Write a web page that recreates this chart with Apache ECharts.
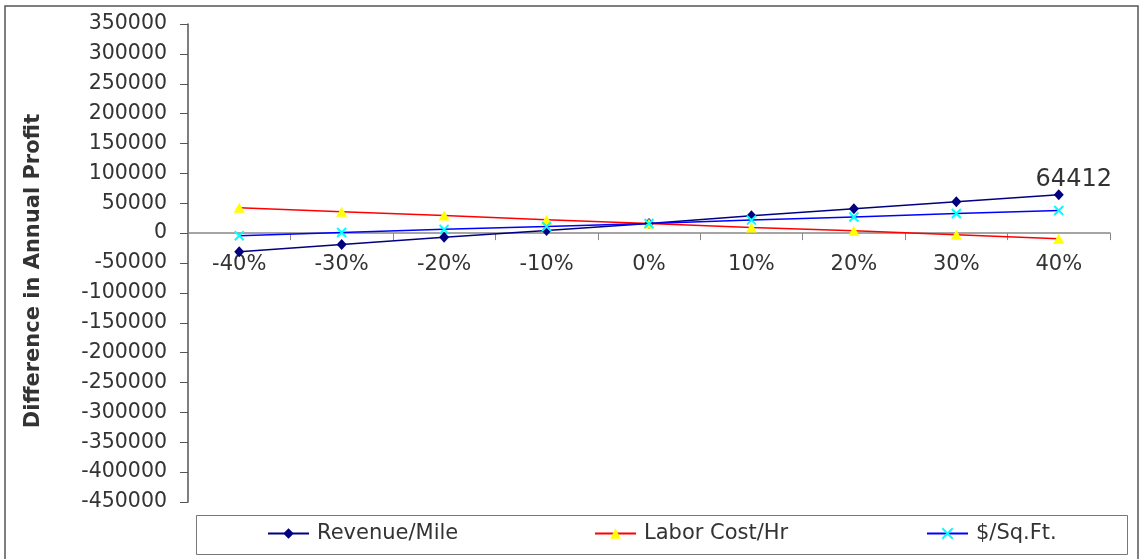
<!DOCTYPE html>
<html>
<head>
<meta charset="utf-8">
<script src="https://cdn.jsdelivr.net/npm/echarts@6/dist/echarts.min.js"></script>
<style>
  html, body { margin: 0; padding: 0; background: #fff; }
  #chart { width: 1139px; height: 559px; }
</style>
</head>
<body>
<div id="chart"></div>
<script>
// Sensitivity of annual profit to a change in each driver
var categories = ['-40%', '-30%', '-20%', '-10%', '0%', '10%', '20%', '30%', '40%'];
var revenuePerMile = [-31300, -19000, -7000, 4500, 16200, 29000, 40800, 52400, 64412];
var laborCostPerHr = [42300, 35800, 29300, 22500, 16200, 9300, 3800, -2600, -9600];
var dollarsPerSqFt = [-4500, 1000, 6300, 11200, 16200, 21800, 27000, 32800, 38000];
var seriesNames = ['Revenue/Mile', 'Labor Cost/Hr', '$/Sq.Ft.'];
var yTitle = 'Difference in Annual Profit';

var FONT = 'DejaVu Sans';
var TEXT = '#333333';
var crossSymbol = 'path://M0,0L10,10M10,0L0,10';

var GRID_TOP = 24, GRID_BOTTOM = 57, HEIGHT = 559;
var Y_MIN = -450000, Y_MAX = 350000;
// lift the category axis from the grid bottom up to the value 0
var plotH = HEIGHT - GRID_TOP - GRID_BOTTOM;
var zeroLift = plotH * (0 - Y_MIN) / (Y_MAX - Y_MIN);

var chart = echarts.init(document.getElementById('chart'));

function legendAt(name, left) {
  return {
    data: [name],
    left: left,
    top: 523,
    padding: 0,
    itemWidth: 41,
    itemHeight: 13,
    selectedMode: false,
    textStyle: { fontFamily: FONT, fontSize: 21, color: TEXT, padding: [0, 0, 0, 3] }
  };
}

var option = {
  animation: false,
  backgroundColor: '#ffffff',
  grid: { left: 188, right: 29, top: GRID_TOP, bottom: GRID_BOTTOM, containLabel: false },
  legend: [
    legendAt(seriesNames[0], 267),
    legendAt(seriesNames[1], 594),
    legendAt(seriesNames[2], 926)
  ],
  graphic: [
    {
      type: 'rect',
      shape: { x: 5, y: 6, width: 1133, height: 560 },
      style: { fill: 'none', stroke: '#555555', lineWidth: 1.5 },
      silent: true
    },
    {
      type: 'rect',
      shape: { x: 196.5, y: 515.5, width: 931, height: 39 },
      style: { fill: 'none', stroke: '#777777', lineWidth: 1 },
      silent: true,
      z: -1
    },
    {
      type: 'text',
      x: 34,
      y: 271,
      rotation: Math.PI / 2,
      style: {
        text: yTitle,
        fontFamily: FONT,
        fontSize: 21,
        fontWeight: 'bold',
        fill: TEXT,
        align: 'center',
        verticalAlign: 'middle'
      },
      silent: true
    }
  ],
  xAxis: {
    type: 'category',
    data: categories,
    boundaryGap: true,
    position: 'bottom',
    offset: -zeroLift,
    axisLine: { onZero: false, lineStyle: { color: '#888888', width: 1.5 } },
    axisTick: { show: true, inside: false, length: 7, lineStyle: { color: '#888888', width: 1 } },
    axisLabel: { margin: 21, fontFamily: FONT, fontSize: 21, color: TEXT, interval: 0 },
    splitLine: { show: false }
  },
  yAxis: {
    type: 'value',
    min: Y_MIN,
    max: Y_MAX,
    interval: 50000,
    axisLine: { show: true, lineStyle: { color: '#555555', width: 1.5 } },
    axisTick: { show: true, inside: false, length: 8, lineStyle: { color: '#555555', width: 1 } },
    axisLabel: {
      margin: 21, fontFamily: FONT, fontSize: 20.5, color: TEXT,
      formatter: function (v) { return String(v); }
    },
    splitLine: { show: false }
  },
  series: [
    {
      name: seriesNames[0],
      type: 'line',
      data: revenuePerMile,
      symbol: 'diamond',
      symbolSize: [10, 11],
      lineStyle: { color: '#000080', width: 1.5 },
      itemStyle: { color: '#000080', borderWidth: 0 },
      label: {
        show: true,
        position: 'top',
        distance: 5,
        offset: [15, 8],
        fontFamily: FONT,
        fontSize: 24,
        color: TEXT,
        formatter: function (p) {
          return p.dataIndex === revenuePerMile.length - 1 ? String(p.value) : '';
        }
      },
      z: 3
    },
    {
      name: seriesNames[1],
      type: 'line',
      data: laborCostPerHr,
      symbol: 'triangle',
      symbolSize: [11, 10],
      lineStyle: { color: '#FF0000', width: 1.5 },
      itemStyle: { color: '#FFFF00', borderWidth: 0 },
      z: 4
    },
    {
      name: seriesNames[2],
      type: 'line',
      data: dollarsPerSqFt,
      symbol: crossSymbol,
      symbolSize: 9,
      lineStyle: { color: '#0000FF', width: 1.5 },
      itemStyle: { color: '#00FFFF', borderColor: '#00FFFF', borderWidth: 2 },
      z: 5
    }
  ]
};

chart.setOption(option);
</script>
</body>
</html>
